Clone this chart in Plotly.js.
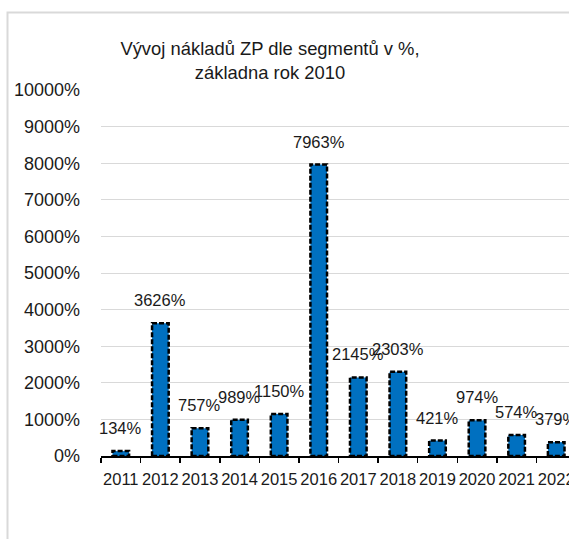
<!DOCTYPE html>
<html>
<head>
<meta charset="utf-8">
<script src="https://cdn.plot.ly/plotly-3.0.1.min.js"></script>
<style>
html,body{margin:0;padding:0;overflow:hidden;background:#fff;}
#chart{width:600px;height:539px;}
</style>
</head>
<body>
<div id="chart"></div>
<script>
const years = ['2011','2012','2013','2014','2015','2016','2017','2018','2019','2020','2021','2022'];
const values = [134, 3626, 757, 989, 1150, 7963, 2145, 2303, 421, 974, 574, 379];
const titleText = 'Vývoj nákladů ZP dle segmentů v %,<br>základna rok 2010';

const W = 600, H = 539;
const mL = 101, mR = 24, mT = 90, mB = 83;
const pw = W - mL - mR, ph = H - mT - mB;
const barW = 0.42;
const font = 'Liberation Sans, Arial, sans-serif';
const txtColor = '#1a1a1a';

const trace = {
  type: 'bar',
  x: years,
  y: values,
  width: years.map(() => barW),
  marker: {color: '#0070C0', line: {width: 0}},
  hoverinfo: 'x+y'
};

const shapes = values.map((v, i) => ({
  type: 'rect', xref: 'x', yref: 'y',
  x0: i - barW / 2, x1: i + barW / 2, y0: 0, y1: v,
  line: {color: '#000', width: 2.5, dash: '5px,2px'},
  fillcolor: 'rgba(0,0,0,0)', layer: 'above'
}));
// chart frame
shapes.push({
  type: 'rect', xref: 'paper', yref: 'paper',
  x0: (7.5 - mL) / pw, x1: 1.3,
  y0: -0.4, y1: (mT + ph - 12.5) / ph,
  line: {color: '#d9d9d9', width: 2}, fillcolor: 'rgba(0,0,0,0)', layer: 'below'
});

const annotations = values.map((v, i) => ({
  x: i, y: v, xref: 'x', yref: 'y',
  text: v + '%', showarrow: false,
  xanchor: 'center', yanchor: 'middle', yshift: 23,
  font: {family: font, size: 16.5, color: txtColor}
}));

const layout = {
  width: W, height: H,
  margin: {l: mL, r: mR, t: mT, b: mB, pad: 0},
  paper_bgcolor: '#fff', plot_bgcolor: '#fff',
  showlegend: false,
  title: {
    text: titleText,
    font: {family: font, size: 18.4, color: txtColor},
    x: 270 / W, xanchor: 'center', xref: 'container',
    y: 1 - 55 / H, yanchor: 'middle', yref: 'container'
  },
  xaxis: {
    type: 'category',
    tickson: 'boundaries',
    tickangle: 0,
    ticks: 'outside', ticklen: 5, tickwidth: 1.5, tickcolor: '#000',
    showline: true, linecolor: '#000', linewidth: 1.5,
    showgrid: false,
    ticklabelstandoff: 8,
    tickfont: {family: font, size: 16.5, color: txtColor},
    range: [-0.5, 11.5]
  },
  yaxis: {
    range: [0, 10000], dtick: 1000, tickformat: 'd', ticksuffix: '%',
    showgrid: true, gridcolor: '#d9d9d9', gridwidth: 1,
    zeroline: false, showline: false, ticks: '',
    ticklabelstandoff: 20,
    tickfont: {family: font, size: 18, color: txtColor}
  },
  shapes: shapes,
  annotations: annotations
};

Plotly.newPlot('chart', [trace], layout, {displayModeBar: false, staticPlot: true});
</script>
</body>
</html>
